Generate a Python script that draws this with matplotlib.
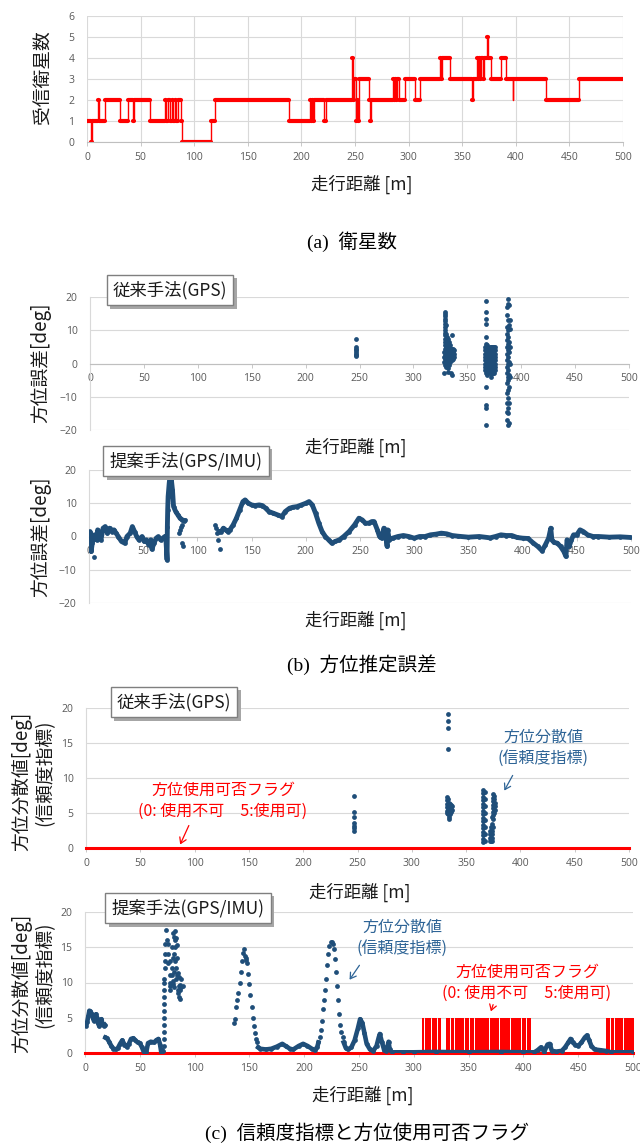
import numpy as np
import matplotlib
matplotlib.use('Agg')
import matplotlib.pyplot as plt
from matplotlib import patheffects

W, H = 640, 1146
JP = ['Noto Sans CJK JP', 'DejaVu Sans']
CAP = ['Liberation Serif', 'Noto Sans CJK JP']
TICK = 'Open Sans'
BLUE = '#1f4e79'
NOTE_BLUE = '#2e6496'
RED = '#ff0000'
GRID = '#d9d9d9'
INK = '#1a1a1a'

# (a) number of received satellites: level holds from sat_dist[i] to sat_dist[i+1]
sat_dist = [0, 4, 4.8, 10, 10.8, 17, 31, 38, 43, 44, 59, 73, 74, 76, 77, 79, 80, 82, 83, 85,
            88, 89, 116, 119, 188, 208, 209, 210, 211, 212, 221, 223, 247, 247.8, 248.5, 249, 251, 252, 253, 254,
            263, 264, 265, 285, 286, 287, 288, 289, 291, 297, 306, 311, 329, 330, 331, 339, 359, 359.8, 364, 365,
            366, 367, 368, 369, 370, 373, 374, 377, 386, 391, 397, 397.8, 428, 459]
sat_count = [1, 0, 1, 2, 1, 2, 1, 2, 1, 2, 1, 2, 1, 2, 1, 2, 1, 2, 1, 2,
             1, 0, 1, 2, 1, 2, 1, 2, 1, 2, 1, 2, 4, 3, 2, 3, 1, 2, 1, 3,
             2, 1, 2, 3, 2, 3, 2, 3, 2, 3, 2, 3, 4, 3, 4, 3, 2, 3, 4, 3,
             4, 3, 4, 3, 4, 5, 4, 3, 4, 3, 2, 3, 2, 3]
route_end = 500

# (b) heading error, GPS only: columns of samples at one distance
gps_err_cols = [
    (247, [7.3, 5.0, 4.5, 4.0, 3.5, 3.0, 2.5, 2.2]),
    (328, [-3.0, 0.5, 2.0, 3.5]),
    (329, [15.5, 15.0, 14.2, 13.5, 12.8, 12.0, 11.0, 10.0, 9.3, 8.5, 7.5, 6.5, 5.5, 4.5, 3.5, 2.5, 1.5, 0.5, -0.5]),
    (330, [11.5, 9.0, 7.0, 5.0, 4.0, 3.0, 2.0, 1.0, 0.0, -1.2]),
    (331, [8.0, 7.0, 6.0, 4.5, 3.0, 2.0, 1.0, 0.5]),
    (332, [7.5, 6.0, 5.0, 3.5, 2.5, 1.5, -1.5, -2.5]),
    (333, [6.5, 5.5, 4.5, 3.5, 2.5, 1.5, 0.5, -0.5]),
    (334, [5.5, 4.5, 3.5, 2.5, 1.5, 0.5]),
    (335, [4.5, 3.5, 2.5, 1.5, -3.0]),
    (336, [8.5, 4.5, 3.5, 2.0, 1.0, -3.5]),
    (337, [4.5, 3.5, 2.5, 1.5]),
    (338, [4.0, 3.0, 2.0]),
    (366, [5.0, 4.0, 3.0, 2.0, 1.0, 0.0, -1.0, -2.0]),
    (367, [18.8, 15.5, 13.5, 12.0, 8.0, 6.0, 5.0, 4.0, 3.0, 2.0, 1.0, 0.0, -1.0, -2.0, -3.0, -7.0, -12.5, -13.5, -18.5]),
    (368, [5.5, 4.0, 3.0, 2.0, 1.0, 0.5, -0.5, -1.5, -2.5, -3.5]),
    (369, [4.0, 2.0, 0.0, -2.0]),
    (370, [3.5, 1.5, -0.5]),
    (371, [5.0, 4.0, 3.0, 2.0, 1.0, 0.0, -1.0, -2.0, -3.0]),
    (372, [5.0, 4.0, 3.0, 2.0, 1.0, 0.0, -1.0, -2.0, -3.0, -4.0]),
    (373, [5.0, 4.0, 3.0, 2.0, 1.0, 0.0, -1.0, -2.0, -3.0]),
    (374, [5.0, 4.0, 3.0, 2.0, 1.0, 0.0, -1.0, -2.0, -3.0]),
    (375, [5.0, 4.0, 3.0, 2.0, 1.0, 0.0, -1.0, -2.0, -3.0]),
    (376, [5.0, 4.0, 3.0, 2.0, 1.0, 0.0, -1.0, -2.0]),
    (387, [17.0, 14.5, 11.0, 9.0, 7.0, 5.0, 3.0, 1.0, -1.0, -3.0, -6.0, -9.0, -12.0, -14.5, -17.0]),
    (388, [19.5, 18.0, 13.0, 10.0, 8.0, 6.0, 4.0, 2.0, 0.0, -2.0, -4.0, -5.0, -8.0, -10.5, -13.5, -15.0, -18.5]),
    (389, [17.5, 11.5, 6.5, 3.5, 0.5, -3.5, -7.0, -12.0, -18.0]),
    (390, [13.0, 10.5, 5.0, 0.0, -4.0]),
]

# (b) heading error, GPS/IMU: continuous track (nan = no estimate) plus stray samples
imu_err_x = [0, 1, 2, 3, 5, 7, 8, 9, 11, 13, 15, 17, 19, 21, 23, 25, 27, 30, 33, 35,
             38, 40, 42, 44, 46, 49, 51, 53, 55, 57, 58, 60, 62, 64, 66, 68, 70, 71, 72, 72.3,
             72.6, 73, 74, 75, 76, 77, 78, 80, 82, 84, 86, 88, np.nan,
             120, 122, 124, 126, 128, 130, 133, 136, 139, 142, 144, 147, 150, 153, 157, 160, 163,
             166, 170, 174, 178, 181, 185, 188, 192, 196, 200, 203, 206, 209, 212, 215, 218, 221, 224,
             227, 231, 235, 240, 245, 249, 252, 255, 258, 261, 263, 266, 268, 270, 272, 274, 275, 275.5,
             277, 280, 285, 290, 295, 300, 305, 310, 315, 320, 325, 330, 335, 340, 350, 360, 370, 375,
             380, 385, 390, 395, 400, 405, 410, 414, 418, 421, 424, 426, 427, 429, 432, 435, 438, 440,
             441, 443, 445, 447, 450, 453, 456, 460, 465, 470, 480, 490, 500]
imu_err_y = [-3.0, 1.5, -4.5, -2.0, 0.5, -1.0, 2.0, 0.0, -1.0, 2.5, 3.0, 1.0, 2.5, 1.5, 2.0, 1.0, 0.0, -1.5, -2.0, 0.0,
             1.0, 3.0, 1.5, 0.0, -1.0, 0.0, -1.5, -1.0, -2.5, -1.0, -3.8, -2.0, -0.5, 0.0, -1.0, -0.5, 0.0, -1.0, -7.0, 3.0,
             8.0, 12.0, 16.0, 19.0, 17.0, 14.0, 9.0, 7.5, 6.5, 5.5, 5.0, 4.8, np.nan,
             1.5, 1.5, 2.5, 2.0, 1.5, 2.0, 3.5, 5.5, 8.0, 10.5, 11.0, 10.0, 9.5, 9.3, 9.5, 9.3, 8.5,
             7.5, 7.0, 6.5, 6.0, 7.5, 8.5, 8.8, 9.0, 9.5, 10.0, 10.5, 9.5, 7.0, 4.0, 1.5, 0.0, -1.0, -2.0,
             -1.5, -1.0, 0.0, 1.5, 3.5, 5.5, 5.0, 4.0, 4.0, 4.5, 4.5, 2.0, 0.0, -0.5, 2.5, 0.0, -3.0, 2.0,
             -1.0, -0.5, 0.0, 0.3, 0.0, -0.5, 0.0, 0.0, 0.5, 0.7, 1.0, 0.8, 0.3, 0.1, -0.2, 0.0, -0.4, 0.0,
             0.5, 0.3, 0.3, -0.3, -0.5, -0.6, -2.0, -3.0, -4.3, -2.5, -0.5, 2.5, -1.0, -1.8, -2.0, -3.0, -4.5, -6.0,
             -1.0, -3.0, -1.0, 0.5, 0.5, 2.0, 1.5, 0.5, 0.0, 0.0, -0.2, -0.1, -0.3]
imu_err_dots_x = [4.5, 83, 84, 85, 86, 85.5, 87, 89, 116, 117, 118, 119, 120.5]
imu_err_dots_y = [-6.3, 1.2, 2.0, 3.0, 3.5, -2.0, -2.8, 5.0, 3.5, 2.5, 1.2, -1.0, -3.7]

# (c) heading variance, GPS only
gps_var_cols = [
    (247, [7.5, 5.2, 4.4, 3.6, 3.2, 2.8, 2.5]),
    (333, [19.1, 18.1, 17.1, 14.1]),
    (332, [7.3, 6.8, 6.3, 5.8, 5.3, 5.0]),
    (333.5, [7.0, 6.0, 5.5, 5.2, 4.8]),
    (334, [6.5, 6.0, 5.5, 5.0, 4.5, 4.1]),
    (335, [6.3, 5.8, 5.3, 4.8]),
    (336, [6.2, 5.6, 5.2]),
    (337, [6.0, 5.5]),
    (366, [8.3, 7.8, 7.3, 6.8, 6.3, 5.8, 5.3, 4.8, 4.3, 3.8, 3.3, 2.8, 2.3, 1.8, 1.3, 0.8]),
    (367, [8.0, 7.0, 6.0, 5.0, 4.0, 3.0, 2.0, 1.0]),
    (372, [2.5, 2.0, 1.5, 1.0]),
    (373, [3.0, 2.5, 2.0, 1.5, 1.0]),
    (374, [4.5, 3.5, 3.0, 2.5, 2.0, 1.5, 1.0]),
    (375, [7.7, 7.2, 6.7, 6.2, 5.7, 5.2, 4.7, 4.2, 3.0]),
    (376, [7.5, 7.0, 6.5, 6.0, 5.5, 5.0]),
    (377, [6.5, 6.0, 5.5]),
]

# (c) heading variance, GPS/IMU: smooth stretches (nan breaks) and sparse steep samples
imu_var_x = [0, 1, 2, 3, 4, 5, 6, 7, 8, 9, 10, 11, 12, 13, 14, 15, 16, 17, 18, np.nan,
             18.6, 20, 22, 24, 26, 28, 30, 32, 34, 36, 38, 40, 42, 44, 46, 48, 50, 52, 53.5, 56,
             57.5, 60, 63, 65, 67, 68.5, 69.5, 71, np.nan,
             158, 160, 165, 170, 175, 180, 183, 187, 190, 195, 199, 203, 207, 210, 212, 213, np.nan,
             236, 238, 240, 243, 246, 249, 251, 253, 255, 257, 260, 263, 266, 268, 269, 271, 273, 275,
             277, 278, 280, 290, 300, 320, 350, 380, 400, 410, 413, 416, 419, 422, 424, 426, 430, 435,
             438, 441, 443, 445, 447, 450, 453, 456, 458, 460, 462, 465, 470, 475, 480, 500]
imu_var_y = [4.0, 3.9, 4.4, 5.2, 6.0, 5.9, 5.6, 5.2, 4.6, 5.3, 5.5, 5.0, 4.2, 3.8, 4.3, 4.8, 4.1, 3.9, 4.0, np.nan,
             2.2, 2.1, 1.6, 1.0, 0.6, 0.5, 0.7, 1.3, 1.8, 1.2, 0.9, 1.3, 2.0, 2.1, 1.8, 1.5, 1.4, 0.8, 0.2, 0.2,
             1.4, 1.6, 1.5, 1.8, 2.0, 1.2, 0.2, 0.3, np.nan,
             0.8, 0.6, 0.5, 0.6, 0.9, 1.3, 1.0, 0.6, 0.5, 1.0, 1.3, 1.0, 0.6, 0.4, 0.9, 1.5, np.nan,
             1.5, 0.7, 0.5, 0.8, 1.8, 3.5, 4.8, 4.3, 2.8, 1.3, 0.5, 0.3, 1.0, 2.2, 2.7, 1.5, 0.4, 0.3,
             1.6, 0.5, 0.1, 0.1, 0.1, 0.15, 0.1, 0.15, 0.1, 0.1, 0.4, 0.8, 0.2, 1.2, 1.3, 0.3, 0.2, 0.3,
             0.8, 1.5, 2.0, 1.5, 1.2, 1.0, 1.5, 2.2, 2.5, 1.8, 1.0, 0.5, 0.4, 0.3, 0.1, 0.1]
imu_var_dots_x = [72, 72, 72, 72, 72, 72, 72, 72, 72, 72, 72, 73, 73, 73, 73, 74, 75, 76, 76, 76,
                  77, 77.5, 77.5, 77.5, 78, 78, 79, 79, 79, 80, 80, 80, 80, 81, 81, 81, 81, 82, 82, 82,
                  82, 83, 83, 83, 84, 84, 84, 85, 85, 85, 86, 86, 86, 87, 87, 87, 88, 88, 89,
                  136, 137, 138, 139, 140, 141, 142, 143, 144, 145, 146, 146.5, 147, 148, 149, 150, 151, 152,
                  153, 154, 155, 156, 157,
                  214, 215, 216, 217, 218, 219, 220, 221, 222, 223, 224, 225, 226, 227, 228, 229, 230, 231,
                  232, 233, 234, 235]
imu_var_dots_y = [1, 2, 3, 4, 5, 6, 7, 8, 9, 10, 10.5, 12, 13, 14, 15.5, 17.4, 16, 15.5, 14, 12.7,
                  18.9, 10, 11, 13, 9, 9.5, 11, 15, 12, 13.5, 10.2, 9.8, 17, 16.5, 14, 11.5, 9.3, 17.3, 16, 15,
                  13, 16.3, 12, 10.5, 15.3, 13.5, 11, 11.3, 9, 8.5, 10.8, 9.5, 8, 9.7, 9, 7.7, 10.5, 9.3, 9.5,
                  4.3, 4.8, 6.5, 7.5, 8.5, 10, 11.5, 13, 14.2, 14.7, 13.8, 13.2, 13.5, 12.8, 11.2, 9.8, 8.2, 6.5,
                  5, 3.8, 2.8, 2.0, 1.5,
                  2.2, 3.2, 4.5, 6.2, 7.5, 9, 10.5, 12.5, 14, 15.2, 15.7, 15.8, 15.5, 14.8, 13.3, 11.5, 9.5, 7.5,
                  5.5, 4.0, 3.0, 2.2]

# heading-usable flag of the GPS/IMU method: stretches where it is 5 (otherwise 0)
flag_on_start = [307.5, 310.2, 313.4, 316.5, 318.6, 322.0,
                 329.5, 333.5, 337.6, 341.5, 346.4, 351.0, 355.5, 360.6, 364.5, 369.5, 373.6, 378.4,
                 383.5, 388.5, 393.6, 398.5, 403.0,
                 475.5, 479.6, 483.5, 487.6, 491.5, 495.5, 499.4]
flag_on_end = [309.5, 312.8, 316.0, 318.0, 321.5, 325.0,
               333.0, 337.0, 341.0, 346.0, 350.5, 355.0, 360.0, 364.0, 369.0, 373.0, 378.0, 383.0,
               388.0, 393.0, 398.0, 402.5, 407.0,
               479.0, 483.0, 487.0, 491.0, 495.0, 499.0, 501.0]


def box(left, top, right, bottom):
    return [left / W, 1 - bottom / H, (right - left) / W, (bottom - top) / H]


def at(x, y):
    return (x / W, 1 - y / H)


def unpack(cols):
    xs, ys = [], []
    for x, vals in cols:
        xs += [x] * len(vals)
        ys += vals
    return xs, ys


def style(ax, ylim, yticks, zero_axis=False, xgrid=False):
    ax.set_xlim(0, 500)
    ax.set_ylim(*ylim)
    ax.set_xticks(range(0, 501, 50))
    ax.set_yticks(yticks)
    ax.grid(axis='y', color=GRID, lw=0.8)
    if xgrid:
        ax.grid(axis='x', color=GRID, lw=0.8)
    ax.set_axisbelow(True)
    ax.spines['top'].set_visible(False)
    ax.spines['right'].set_visible(False)
    ax.spines['left'].set_color(GRID)
    ax.spines['bottom'].set_color('#bfbfbf')
    if zero_axis:
        ax.spines['bottom'].set_position(('data', 0))
    ax.tick_params(axis='x', length=3, width=0.6, color='#bfbfbf', pad=4, labelsize=7.5, labelcolor='#595959')
    ax.tick_params(axis='y', length=0, pad=9, labelsize=7.5, labelcolor='#595959')
    for lab in ax.get_xticklabels() + ax.get_yticklabels():
        lab.set_family(TICK)


def label_box(fig, text, x, y):
    t = fig.text(*at(x, y), text, family=JP, fontsize=12.5, color=INK, ha='center', va='center', zorder=6,
                 bbox=dict(boxstyle='square,pad=0.35', fc='white', ec='#7f7f7f', lw=1))
    # grey drop shadow under the framed label
    t.get_bbox_patch().set_path_effects([
        patheffects.SimplePatchShadow(offset=(2.5, -2.5), shadow_rgbFace='#a6a6a6', alpha=1),
        patheffects.Normal()])


def note(fig, lines, x, y0, color, start, end):
    for i, t in enumerate(lines):
        fig.text(*at(x, y0 + 21 * i), t, family=JP, fontsize=11.5, color=color, ha='center', va='center')
    fig.add_artist(matplotlib.patches.FancyArrowPatch(
        at(*start), at(*end), transform=fig.transFigure, arrowstyle='->,head_length=4,head_width=2.5',
        color=color, lw=0.9))


def ylab(x, y, text):
    fig.text(*at(x, y), text, family=JP, fontsize=13.5, rotation=90, ha='center', va='center', color=INK)


def xlab(x, y):
    fig.text(*at(x, y), '走行距離 [m]', family=JP, fontsize=12.5, ha='center', va='center', color=INK)


fig = plt.figure(figsize=(W / 100, H / 100), dpi=100)

# (a) satellites
ax = fig.add_axes(box(87, 16, 623, 142))
style(ax, (0, 6), range(0, 7), xgrid=True)
ax.spines['left'].set_visible(False)
ax.step(sat_dist + [route_end], sat_count + [sat_count[-1]], where='post', color=RED, lw=1)
ax.hlines(sat_count, sat_dist, sat_dist[1:] + [route_end], color=RED, lw=3, capstyle='round')
ylab(43, 77, '受信衛星数')
xlab(362, 184)
fig.text(*at(352, 242), '(a)  衛星数', family=CAP, fontsize=14, ha='center', va='center')

# (b) heading error
gx, gy = unpack(gps_err_cols)
ax = fig.add_axes(box(90, 297, 629, 430))
style(ax, (-20, 20), range(-20, 21, 10), zero_axis=True)
ax.scatter(gx, gy, s=12, color=BLUE, lw=0, zorder=3)
ylab(41, 363, '方位誤差[deg]')
xlab(356, 447)
label_box(fig, '従来手法(GPS)', 170, 290)

ax = fig.add_axes(box(89, 470, 631, 603))
style(ax, (-20, 20), range(-20, 21, 10), zero_axis=True)
ax.plot(imu_err_x, imu_err_y, color=BLUE, lw=3.5, marker='o', ms=3.4, mew=0, zorder=3)
ax.scatter(imu_err_dots_x, imu_err_dots_y, s=12, color=BLUE, lw=0, zorder=3)
ylab(41, 537, '方位誤差[deg]')
xlab(356, 620)
label_box(fig, '提案手法(GPS/IMU)', 186, 461)
fig.text(*at(362, 665), '(b)  方位推定誤差', family=CAP, fontsize=14, ha='center', va='center')

# (c) reliability index and heading-usable flag
vx, vy = unpack(gps_var_cols)
ax = fig.add_axes(box(86, 708, 629, 848))
style(ax, (0, 20), range(0, 21, 5))
ax.axhline(0, color=RED, lw=2.2, zorder=2.7, clip_on=False)
ax.scatter(vx, vy, s=12, color=BLUE, lw=0, zorder=3)
ylab(22, 781, '方位分散値[deg]')
ylab(45, 773, '(信頼度指標)')
xlab(360, 892)
label_box(fig, '従来手法(GPS)', 174, 702)
note(fig, ['方位使用可否フラグ', '(0: 使用不可　5:使用可)'], 223, 790, RED, (190, 823), (179, 847))
note(fig, ['方位分散値', '(信頼度指標)'], 543, 737, NOTE_BLUE, (514, 773), (503, 793))

ax = fig.add_axes(box(85, 912, 633, 1053))
style(ax, (0, 20), range(0, 21, 5))
ax.axhline(0, color=RED, lw=2.2, zorder=2.7, clip_on=False)
for s, e in zip(flag_on_start, flag_on_end):
    ax.fill_between([s, e], 0, 5, color=RED, lw=0, zorder=2.7)
ax.plot(imu_var_x, imu_var_y, color=BLUE, lw=3.3, marker='o', ms=3.4, mew=0, zorder=3)
ax.scatter(imu_var_dots_x, imu_var_dots_y, s=12, color=BLUE, lw=0, zorder=3)
ylab(22, 983, '方位分散値[deg]')
ylab(45, 975, '(信頼度指標)')
xlab(363, 1095)
label_box(fig, '提案手法(GPS/IMU)', 188, 908)
note(fig, ['方位分散値', '(信頼度指標)'], 402, 927, NOTE_BLUE, (361, 963), (348, 982))
note(fig, ['方位使用可否フラグ', '(0: 使用不可　5:使用可)'], 527, 972, RED, (494, 1002), (490, 1014))
fig.text(*at(367, 1133), '(c)  信頼度指標と方位使用可否フラグ', family=CAP, fontsize=14, ha='center', va='center')

fig.savefig('out.png', dpi=100)
